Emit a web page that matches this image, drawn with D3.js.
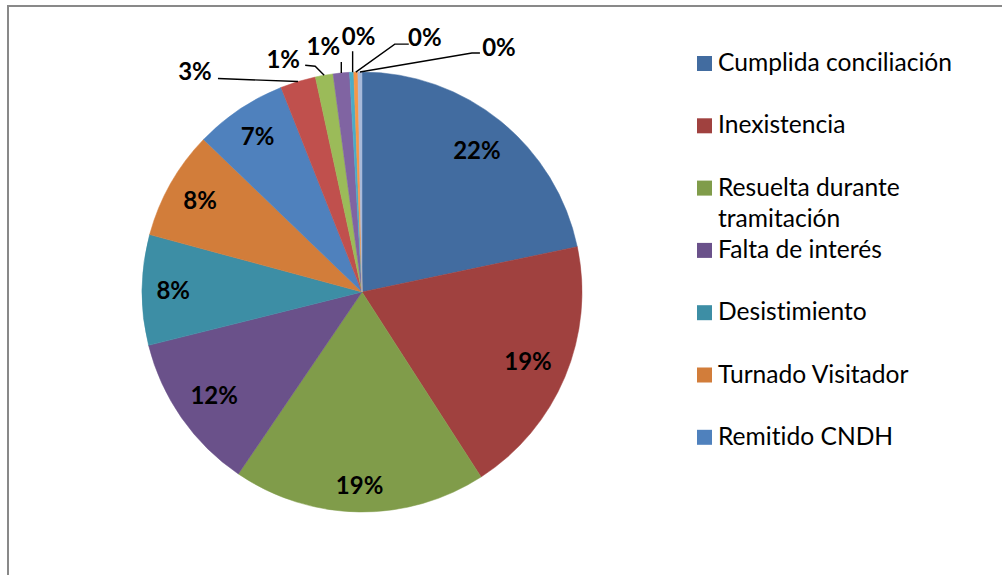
<!DOCTYPE html>
<html>
<head>
<meta charset="utf-8">
<script src="https://cdn.jsdelivr.net/npm/d3@7"></script>
<style>
  html, body { margin: 0; padding: 0; background: #fff; }
  svg { display: block; }
  svg text { font-variant-ligatures: none; font-feature-settings: "liga" 0, "dlig" 0; }
</style>
</head>
<body>
<svg id="chart" width="1002" height="575"></svg>
<script>
// Motivos de conclusión de expedientes (porcentaje del total)
const categories = [
  "Cumplida conciliación",
  "Inexistencia",
  "Resuelta durante tramitación",
  "Falta de interés",
  "Desistimiento",
  "Turnado Visitador",
  "Remitido CNDH"
];
const shares = [21.7, 19.2, 18.6, 11.6, 8.1, 8.0, 6.8, 2.6, 1.3, 1.2, 0.3, 0.3, 0.3];
const sliceColors = [
  "#426CA0", "#A0413F", "#809C4A", "#6A518A", "#3D8EA5", "#D27D3A",
  "#4F81BD", "#C0504D", "#9BBB59", "#8064A2", "#4BACC6", "#F79646", "#A8BADA"
];

// Placement of the labels that sit outside the pie, relative to the slice's rim point
const outsideLabels = {
  7:  { text: [-103, -10], leader: [[-80, -3], [0, 0]] },
  8:  { text: [-41, -16],  leader: [[-19, -10], [-9, -9], [0, 0]] },
  9:  { text: [-18, -26],  leader: [[0, -11], [0, 0]] },
  10: { text: [7, -36],    leader: [[1, -21], [1, 0]] },
  11: { text: [69, -35],   leader: [[53, -28], [39, -28], [0, 0]] },
  12: { text: [139, -24],  leader: [[120, -19], [112, -19], [0, 0]] }
};

const svg = d3.select("#chart");
const W = 1002, H = 575;
const cx = 362, cy = 292, R = 220;
const FONT = "Lato, 'Open Sans', sans-serif";
const LABEL_SIZE = 24;
const FIT_RADIUS = 206; // inside labels: outer corner of the text box rests on this circle

// Chart area frame
svg.append("rect")
  .attr("x", 8).attr("y", 6)
  .attr("width", W + 20).attr("height", H + 20)
  .attr("fill", "#fff")
  .attr("stroke", "#898989").attr("stroke-width", 2);

const total = d3.sum(shares);
const pct = v => Math.round(v / total * 100) + "%";

const pie = d3.pie().sort(null).value(d => d);
const arcs = pie(shares);
const arc = d3.arc().innerRadius(0).outerRadius(R);

const g = svg.append("g").attr("transform", `translate(${cx},${cy})`);

g.selectAll("path.slice")
  .data(arcs)
  .join("path")
  .attr("class", "slice")
  .attr("d", arc)
  .attr("fill", (d, i) => sliceColors[i])
  .attr("stroke", (d, i) => sliceColors[i])
  .attr("stroke-width", 0.5);

// Labels drawn inside the larger slices, pushed out along the mid-angle
// until the outer corner of the text box reaches FIT_RADIUS
g.selectAll("text.inside")
  .data(arcs.filter((d, i) => !outsideLabels[i]))
  .join("text")
  .attr("class", "inside")
  .attr("text-anchor", "middle")
  .attr("dy", "0.35em")
  .attr("font-family", FONT)
  .attr("font-weight", "bold")
  .attr("font-size", LABEL_SIZE)
  .attr("fill", "#000")
  .text(d => pct(d.value))
  .each(function(d) {
    const mid = (d.startAngle + d.endAngle) / 2;
    const s = Math.sin(mid), c = -Math.cos(mid);
    const hw = this.getComputedTextLength() / 2, hh = LABEL_SIZE * 0.45;
    const b = Math.abs(s) * hw + Math.abs(c) * hh;
    const C = hw * hw + hh * hh - FIT_RADIUS * FIT_RADIUS;
    const r = -b + Math.sqrt(b * b - C);
    d3.select(this).attr("transform", `translate(${r * s},${r * c})`);
  });

// Small slices: labels outside with leader lines
arcs.forEach((d, i) => {
  const lay = outsideLabels[i];
  if (!lay) return;
  const mid = (d.startAngle + d.endAngle) / 2;
  const ax = R * Math.sin(mid), ay = -R * Math.cos(mid);
  g.append("path")
    .attr("d", d3.line()(lay.leader.map(p => [ax + p[0], ay + p[1]])))
    .attr("fill", "none")
    .attr("stroke", "#000")
    .attr("stroke-width", 1.4);
  g.append("text")
    .attr("x", ax + lay.text[0]).attr("y", ay + lay.text[1])
    .attr("text-anchor", "middle")
    .attr("dy", "0.35em")
    .attr("font-family", FONT)
    .attr("font-weight", "bold")
    .attr("font-size", LABEL_SIZE)
    .attr("fill", "#000")
    .text(pct(d.value));
});

// Legend (only the entries that fit in the chart area)
const legendX = 697, legendTop = 71, legendStep = 62.3, maxTextWidth = 255;
const legend = svg.append("g");
categories.forEach((name, i) => {
  const y = legendTop + i * legendStep;
  legend.append("rect")
    .attr("x", legendX).attr("y", y - 15)
    .attr("width", 15).attr("height", 15)
    .attr("fill", sliceColors[i]);
  const t = legend.append("text")
    .attr("x", legendX + 21).attr("y", y)
    .attr("font-family", FONT)
    .attr("font-size", 24.6)
    .attr("fill", "#000");
  // simple word wrap
  const words = name.split(" ");
  let line = [];
  let tspan = t.append("tspan").attr("x", legendX + 21).attr("dy", 0);
  words.forEach(w => {
    line.push(w);
    tspan.text(line.join(" "));
    if (tspan.node().getComputedTextLength() > maxTextWidth && line.length > 1) {
      line.pop();
      tspan.text(line.join(" "));
      line = [w];
      tspan = t.append("tspan").attr("x", legendX + 21).attr("dy", 31).text(w);
    }
  });
});
</script>
</body>
</html>
